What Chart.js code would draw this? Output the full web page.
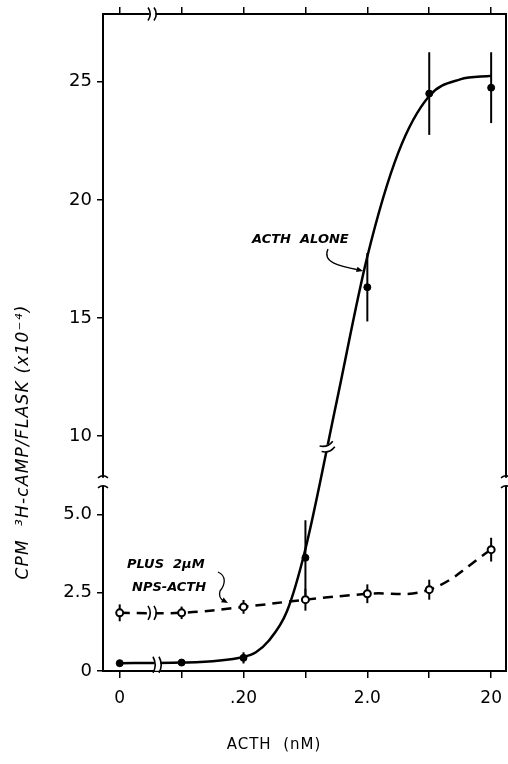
<!DOCTYPE html>
<html>
<head>
<meta charset="utf-8">
<script src="https://cdn.jsdelivr.net/npm/chart.js@4.4.0/dist/chart.umd.min.js"></script>
<style>
    body { margin: 0; background: #fff; }
</style>
</head>
<body>

<canvas id="myChart" width="508" height="764"></canvas>

<script>
    // dose steps along the (log) ACTH axis, 0 = no ACTH
    const doseIdx = [0, 1, 2, 3, 4, 5, 6];
    const xTickLabels = ['0', '', '.20', '', '2.0', '', '20'];

    // CPM 3H-cAMP / flask (x10^-4)
    const acthAlone = [0.25, 0.27, 0.42, 3.62, 16.3, 24.5, 24.75];
    const acthAloneErr = [0.08, 0.08, 0.18, 1.2, 1.45, 1.75, 1.5];

    const plusNps = [1.86, 1.86, 2.05, 2.28, 2.47, 2.6, 3.88];
    const plusNpsErr = [0.27, 0.2, 0.22, 0.35, 0.3, 0.32, 0.38];

    // the hand drawn curve through the ACTH alone points
    const fitX = [0, 1, 2, 2.2, 2.4, 2.7, 3, 3.5, 4, 4.5, 5, 5.5, 6];
    const fitY = [0.25, 0.27, 0.45, 0.6, 0.95, 1.9, 3.9, 11.4, 17.6, 22.0, 24.4, 25.1, 25.25];

    const yTicks = [0, 2.5, 5, 10, 15, 20, 25];
    const yTickLabels = ['0', '2.5', '5.0', '10', '15', '20', '25'];

    // y axis is broken between 6 and 8, lower part has its own scale
    const brk = { lowMax: 6.05, highMin: 8.06, split: 0.288 };

    class BrokenScale extends Chart.LinearScale {
        getPixelForValue(value) {
            let f;
            if (value <= brk.lowMax) {
                f = (value - this.min) / (brk.lowMax - this.min) * brk.split;
            } else if (value >= brk.highMin) {
                f = brk.split + (value - brk.highMin) / (this.max - brk.highMin) * (1 - brk.split);
            } else {
                f = brk.split;
            }
            return this.getPixelForDecimal(f);
        }
    }
    BrokenScale.id = 'broken';
    BrokenScale.defaults = Chart.LinearScale.defaults;
    Chart.register(BrokenScale);

    const pts = (xs, ys) => xs.map((x, i) => ({ x: x, y: ys[i] }));

    const noPad = s => { s.paddingLeft = 0; s.paddingRight = 0; s.paddingTop = 0; s.paddingBottom = 0; };

    const errorBars = {
        id: 'errorBars',
        beforeDatasetsDraw(chart) {
            const { ctx, scales: { x, y } } = chart;
            ctx.save();
            ctx.strokeStyle = '#000';
            ctx.lineWidth = 2;
            [[acthAlone, acthAloneErr], [plusNps, plusNpsErr]].forEach(([m, e]) => {
                m.forEach((v, i) => {
                    const px = x.getPixelForValue(doseIdx[i]);
                    ctx.beginPath();
                    ctx.moveTo(px, y.getPixelForValue(v - e[i]));
                    ctx.lineTo(px, y.getPixelForValue(v + e[i]));
                    ctx.stroke();
                });
            });
            ctx.restore();
        }
    };

    function arrowHead(ctx, x, y, ang) {
        ctx.beginPath();
        ctx.moveTo(x, y);
        ctx.lineTo(x - 7 * Math.cos(ang - 0.4), y - 7 * Math.sin(ang - 0.4));
        ctx.lineTo(x - 7 * Math.cos(ang + 0.4), y - 7 * Math.sin(ang + 0.4));
        ctx.closePath();
        ctx.fill();
    }

    // little "))" marks where an axis or a line is broken
    function breakMarks(ctx, cx, cy, h, gap, rot) {
        ctx.save();
        ctx.translate(cx, cy);
        ctx.rotate(rot);
        ctx.fillStyle = '#fff';
        ctx.fillRect(-gap / 2, -h / 2 + 2, gap, h - 4);
        ctx.strokeStyle = '#000';
        ctx.lineWidth = 1.6;
        [-gap / 2, gap / 2].forEach(dx => {
            ctx.beginPath();
            ctx.moveTo(dx - 1.5, -h / 2);
            ctx.quadraticCurveTo(dx + 3, 0, dx - 1.5, h / 2);
            ctx.stroke();
        });
        ctx.restore();
    }

    const decorations = {
        id: 'decorations',
        afterDraw(chart) {
            const { ctx, chartArea: a, scales: { x, y } } = chart;
            ctx.save();

            // axis breaks
            const yb = y.getPixelForDecimal(brk.split);
            [a.left, a.right].forEach(px => {
                ctx.fillStyle = '#fff';
                ctx.fillRect(px - 4, yb - 4, 8, 8);
                ctx.strokeStyle = '#000';
                ctx.lineWidth = 1.6;
                [yb - 5, yb + 5].forEach(py => {
                    ctx.beginPath();
                    ctx.moveTo(px - 5, py + 1);
                    ctx.quadraticCurveTo(px, py - 3, px + 5, py + 1);
                    ctx.stroke();
                });
            });
            breakMarks(ctx, x.getPixelForValue(0.53), a.top, 13, 6, 0);
            breakMarks(ctx, x.getPixelForValue(0.61), y.getPixelForValue(0.2), 16, 6, 0);
            breakMarks(ctx, x.getPixelForValue(0.53), y.getPixelForValue(1.86), 14, 6, 0);
            breakMarks(ctx, x.getPixelForValue(3.36), y.getPixelForValue(9.5), 14, 6, Math.PI / 2 - 0.35);

            // annotations
            ctx.fillStyle = '#000';
            ctx.strokeStyle = '#000';
            ctx.font = 'bold italic 13px "DejaVu Sans"';
            ctx.textAlign = 'left';
            ctx.textBaseline = 'alphabetic';
            ctx.fillText('ACTH  ALONE', 252, 243);
            ctx.fillText('PLUS  2\u00b5M', 127, 568);
            ctx.fillText('NPS-ACTH', 132, 591);

            ctx.lineWidth = 1.3;
            ctx.beginPath();
            ctx.moveTo(328, 249);
            ctx.bezierCurveTo(322, 262, 338, 266, 359, 270);
            ctx.stroke();
            arrowHead(ctx, 363, 271, 0.25);

            ctx.beginPath();
            ctx.moveTo(218, 572);
            ctx.bezierCurveTo(227, 576, 225, 585, 220, 591);
            ctx.quadraticCurveTo(218, 598, 224, 601);
            ctx.stroke();
            arrowHead(ctx, 228, 603, 0.5);

            // axis titles
            ctx.font = '15px "DejaVu Sans"';
            ctx.letterSpacing = '1px';
            ctx.textAlign = 'center';
            ctx.textBaseline = 'middle';
            ctx.fillText('ACTH  (nM)', 274, 745);

            ctx.translate(24, 442);
            ctx.rotate(-Math.PI / 2);
            ctx.font = 'italic 17px "DejaVu Sans"';
            ctx.letterSpacing = '1.2px';
            ctx.fillText('CPM  \u00b3H-cAMP/FLASK (x10\u207b\u2074)', 0, 0);

            ctx.restore();
        }
    };

    const xCommon = {
        type: 'linear',
        min: -0.27,
        max: 6.24,
        bounds: 'data',
        afterBuildTicks: s => { s.ticks = doseIdx.map(v => ({ value: v })); },
        border: { color: '#000', width: 2 },
        grid: { drawOnChartArea: false, color: '#000', tickLength: 7, lineWidth: 1.5 }
    };

    const ctx = document.getElementById('myChart').getContext('2d');
    const myChart = new Chart(ctx, {
        type: 'line',
        data: {
            datasets: [{
                label: 'ACTH alone',
                data: pts(doseIdx, acthAlone),
                showLine: false,
                pointRadius: 3.5,
                pointBackgroundColor: '#000',
                pointBorderColor: '#000',
                pointBorderWidth: 1
            }, {
                label: 'plus 2uM NPS-ACTH',
                data: pts(doseIdx, plusNps),
                borderColor: '#000',
                borderWidth: 2.5,
                borderDash: [10, 7],
                tension: 0.4,
                pointRadius: 3.5,
                pointBackgroundColor: '#fff',
                pointBorderColor: '#000',
                pointBorderWidth: 2
            }, {
                label: 'fit',
                data: pts(fitX, fitY),
                borderColor: '#000',
                borderWidth: 2.5,
                cubicInterpolationMode: 'monotone',
                pointRadius: 0
            }]
        },
        options: {
            responsive: false,
            animation: false,
            events: [],
            layout: { padding: 0, autoPadding: false },
            plugins: { legend: { display: false }, tooltip: { enabled: false } },
            scales: {
                x: Object.assign({}, xCommon, {
                    position: 'bottom',
                    afterFit: s => { s.height = 93; noPad(s); },
                    ticks: {
                        autoSkip: false,
                        maxRotation: 0,
                        padding: 10,
                        color: '#000',
                        font: { family: 'DejaVu Sans', size: 17 },
                        callback: (v, i) => xTickLabels[i]
                    }
                }),
                x2: Object.assign({}, xCommon, {
                    position: 'top',
                    afterFit: s => { s.height = 14; noPad(s); },
                    ticks: { display: false }
                }),
                y: {
                    type: 'broken',
                    position: 'left',
                    min: 0,
                    max: 27.87,
                    afterBuildTicks: s => { s.ticks = yTicks.map(v => ({ value: v })); },
                    afterFit: s => { s.width = 103; noPad(s); },
                    border: { color: '#000', width: 2 },
                    grid: { drawOnChartArea: false, color: '#000', tickLength: 6, lineWidth: 1.5 },
                    ticks: {
                        padding: 5,
                        color: '#000',
                        font: { family: 'DejaVu Sans', size: 18 },
                        callback: (v, i) => yTickLabels[i]
                    }
                },
                y2: {
                    type: 'linear',
                    position: 'right',
                    afterFit: s => { s.width = 2; noPad(s); },
                    border: { color: '#000', width: 2 },
                    grid: { display: false },
                    ticks: { display: false }
                }
            }
        },
        plugins: [errorBars, decorations]
    });
</script>
</body>
</html>
